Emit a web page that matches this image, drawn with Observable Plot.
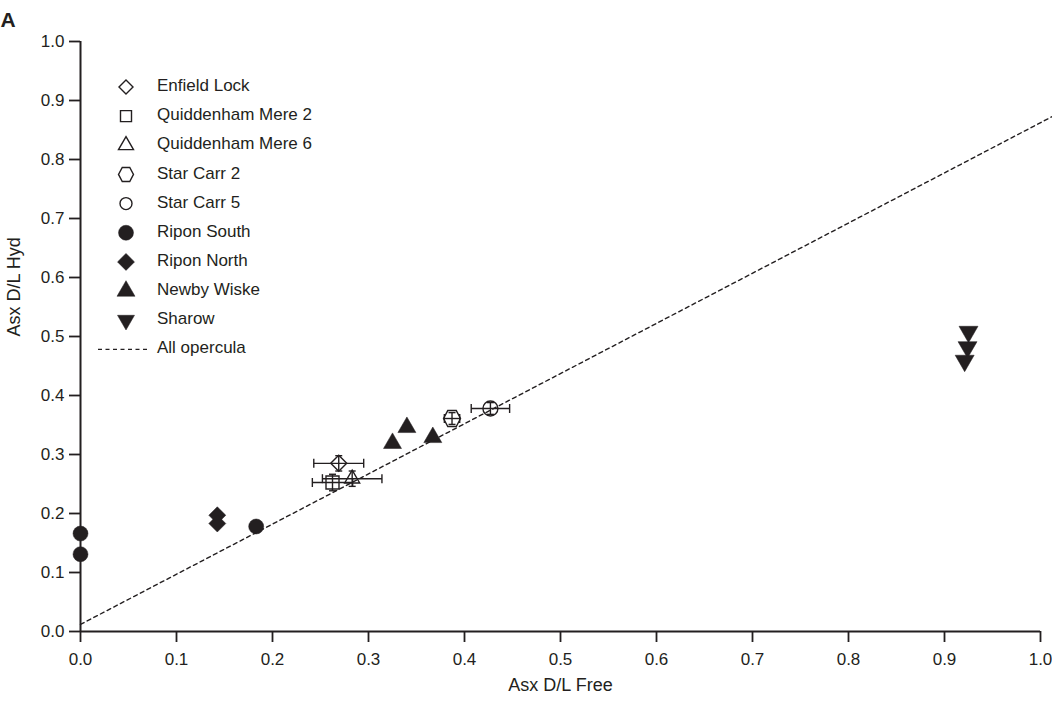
<!DOCTYPE html>
<html><head><meta charset="utf-8">
<script src="https://cdn.jsdelivr.net/npm/d3@7"></script>
<script src="https://cdn.jsdelivr.net/npm/@observablehq/plot@0.6"></script>
<style>
body{margin:0;background:#fff;}
#wrap{position:relative;width:1052px;height:702px;}
#wrap svg{display:block;}
#legend{position:absolute;left:0;top:0;}
</style></head><body><div id="wrap"></div>
<script>
// ---- data ----
const seriesNames = ["Enfield Lock","Quiddenham Mere 2","Quiddenham Mere 6","Star Carr 2","Star Carr 5","Ripon South","Ripon North","Newby Wiske","Sharow"];
const pointSeries = ["Enfield Lock","Quiddenham Mere 2","Quiddenham Mere 6","Star Carr 2","Star Carr 5","Ripon South","Ripon South","Ripon South","Ripon North","Ripon North","Newby Wiske","Newby Wiske","Newby Wiske","Sharow","Sharow","Sharow"];
const freeDL = [0.269,0.2625,0.283,0.387,0.427,0,0,0.183,0.1425,0.1425,0.325,0.340,0.367,0.925,0.924,0.921];
const hydDL  = [0.285,0.2525,0.259,0.361,0.378,0.166,0.131,0.178,0.197,0.183,0.319,0.346,0.329,0.508,0.482,0.459];
const freeErr = [0.026,0.021,0.031,0.008,0.020,0,0,0,0,0,0,0,0,0,0,0];
const hydErr  = [0.013,0.014,0.013,0.010,0.010,0,0,0,0,0,0,0,0,0,0,0];
const fitLabel = "All opercula";
const fitFree = [0, 1.0125];
const fitHyd = [0.012, 0.873];
const xTicks = [0,0.1,0.2,0.3,0.4,0.5,0.6,0.7,0.8,0.9,1.0];
const yTicks = [0,0.1,0.2,0.3,0.4,0.5,0.6,0.7,0.8,0.9,1.0];
const xLabel = "Asx D/L Free";
const yLabel = "Asx D/L Hyd";
const panelLabel = "A";

// ---- symbols ----
const R = s => Math.sqrt(s / Math.PI);
const sym = {
  diamond:{draw(c,s){const r=R(s);c.moveTo(0,-r);c.lineTo(r,0);c.lineTo(0,r);c.lineTo(-r,0);c.closePath();}},
  square:{draw(c,s){const r=R(s);c.rect(-r,-r,2*r,2*r);}},
  triUp:{draw(c,s){const r=R(s),h=r*Math.sqrt(3);c.moveTo(0,-2*h/3);c.lineTo(r,h/3);c.lineTo(-r,h/3);c.closePath();}},
  triDown:{draw(c,s){const r=R(s),h=r*Math.sqrt(3);c.moveTo(0,2*h/3);c.lineTo(r,-h/3);c.lineTo(-r,-h/3);c.closePath();}},
  hexagon:{draw(c,s){const r=R(s);for(let k=0;k<6;k++){const a=k*Math.PI/3;const px=r*Math.cos(a),py=r*Math.sin(a)*1.08;k?c.lineTo(px,py):c.moveTo(px,py);}c.closePath();}},
  circle:{draw(c,s){const r=R(s);c.moveTo(r,0);c.arc(0,0,r,0,2*Math.PI);}},
  vbar:{draw(c,s){const r=R(s);c.moveTo(0,-r);c.lineTo(0,r);}},
  hbar:{draw(c,s){const r=R(s);c.moveTo(-r,0);c.lineTo(r,0);}}
};
const INK = "#231f20";
const FONT = '"Liberation Sans", Arial, sans-serif';
const style = {
  "Enfield Lock":{sym:sym.diamond,filled:false,r:8,lr:7},
  "Quiddenham Mere 2":{sym:sym.square,filled:false,r:6.5,lr:5.5},
  "Quiddenham Mere 6":{sym:sym.triUp,filled:false,r:7.5,lr:7.5},
  "Star Carr 2":{sym:sym.hexagon,filled:false,r:8.5,lr:7.5},
  "Star Carr 5":{sym:sym.circle,filled:false,r:7.5,lr:6},
  "Ripon South":{sym:sym.circle,filled:true,r:7.5,lr:7.5},
  "Ripon North":{sym:sym.diamond,filled:true,r:8.5,lr:8.5},
  "Newby Wiske":{sym:sym.triUp,filled:true,r:9,lr:9},
  "Sharow":{sym:sym.triDown,filled:true,r:9.5,lr:8.5}
};

const pts = pointSeries.map((s,i)=>({s, x:freeDL[i], y:hydDL[i], ex:freeErr[i], ey:hydErr[i]}));
const errPts = pts.filter(d=>d.ex>0||d.ey>0);
const fit = fitFree.map((x,i)=>({x, y:fitHyd[i]}));

const seriesMarks = seriesNames.map(name=>{
  const st = style[name];
  return Plot.dot(pts.filter(d=>d.s===name), {
    x:"x", y:"y", symbol: st.sym, r: st.r,
    fill: st.filled ? INK : "none", stroke: INK, strokeWidth: st.filled ? 0.5 : 1.4
  });
});

const chart = Plot.plot({
  width: 1052, height: 702,
  marginLeft: 80, marginRight: 12, marginTop: 41, marginBottom: 71,
  style: {fontFamily: FONT, fontSize: "17px", color: INK, background: "#fff"},
  x: {domain: [0, 1]},
  y: {domain: [0, 1]},
  marks: [
    Plot.axisX(xTicks, {tickSize: 11, tickPadding: 10, tickFormat: d3.format(".1f"), label: null, strokeWidth: 1.8, fontSize: 17}),
    Plot.axisY(yTicks, {tickSize: 11, tickPadding: 5, tickFormat: d3.format(".1f"), label: null, strokeWidth: 1.8, fontSize: 17}),
    Plot.ruleX([0], {stroke: INK, strokeWidth: 2}),
    Plot.ruleY([0], {stroke: INK, strokeWidth: 2}),
    Plot.line(fit, {x:"x", y:"y", stroke: INK, strokeWidth: 1.4, strokeDasharray: "4,3.5"}),
    Plot.link(errPts, {x1: d=>d.x-d.ex, x2: d=>d.x+d.ex, y1:"y", y2:"y", stroke: INK, strokeWidth: 1.4}),
    Plot.dot(errPts, {x: d=>d.x-d.ex, y:"y", symbol: sym.vbar, r: 4.5, fill:"none", stroke: INK, strokeWidth: 1.4}),
    Plot.dot(errPts, {x: d=>d.x+d.ex, y:"y", symbol: sym.vbar, r: 4.5, fill:"none", stroke: INK, strokeWidth: 1.4}),
    Plot.link(errPts, {x1:"x", x2:"x", y1: d=>d.y-d.ey, y2: d=>d.y+d.ey, stroke: INK, strokeWidth: 1.4}),
    Plot.dot(errPts, {x:"x", y: d=>d.y-d.ey, symbol: sym.hbar, r: 3.5, fill:"none", stroke: INK, strokeWidth: 1.4}),
    Plot.dot(errPts, {x:"x", y: d=>d.y+d.ey, symbol: sym.hbar, r: 3.5, fill:"none", stroke: INK, strokeWidth: 1.4}),
    ...seriesMarks,
    Plot.text([xLabel], {frameAnchor: "bottom", dy: 59, text: d=>d, fill: INK, fontSize: 18}),
    Plot.text([yLabel], {frameAnchor: "left", dx: -66, rotate: -90, text: d=>d, fill: INK, fontSize: 18}),
    Plot.text([panelLabel], {frameAnchor: "top-left", dx: -80, dy: -29, textAnchor: "start", text: d=>d, fill: INK, fontSize: 21, fontWeight: "bold"})
  ]
});
const wrap = document.getElementById("wrap");
wrap.appendChild(chart);

// ---- legend overlay ----
const leg = d3.select(wrap).append("svg").attr("id","legend").attr("width", 360).attr("height", 380)
  .style("font-family", FONT).style("font-size","17px");
const row0 = 85, step = 29.15, symX = 126, textX = 157;
seriesNames.forEach((name,i)=>{
  const st = style[name];
  const y = row0 + i*step;
  leg.append("path")
    .attr("d", d3.symbol(st.sym, Math.PI*st.lr*st.lr)())
    .attr("transform", `translate(${symX},${y+2})`)
    .attr("fill", st.filled ? INK : "none")
    .attr("stroke", INK).attr("stroke-width", st.filled ? 0.5 : 1.4);
  leg.append("text").attr("x", textX).attr("y", y).attr("dy","0.36em").attr("fill", INK).text(name);
});
const yl = row0 + seriesNames.length*step;
leg.append("line").attr("x1", 98).attr("x2", 148).attr("y1", yl+2).attr("y2", yl+2)
  .attr("stroke", INK).attr("stroke-width", 1.4).attr("stroke-dasharray","4,3.5");
leg.append("text").attr("x", textX).attr("y", yl).attr("dy","0.36em").attr("fill", INK).text(fitLabel);
</script>
</body></html>
